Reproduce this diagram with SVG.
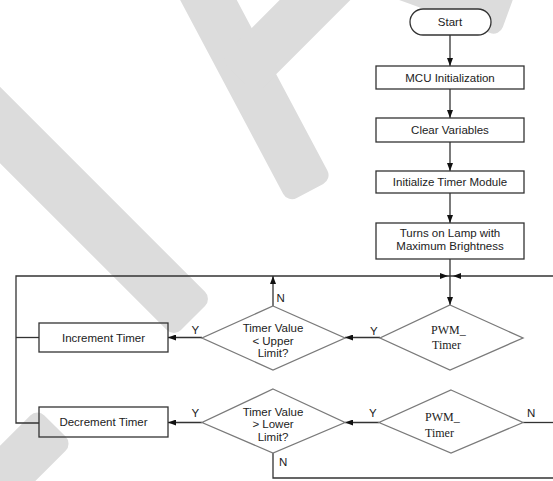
<svg xmlns="http://www.w3.org/2000/svg" width="553" height="481" viewBox="0 0 553 481">
<style>
.wm{fill:#dcdcdc}
.box{fill:none;stroke:#333;stroke-width:1.3}
.dia{fill:none;stroke:#7a7a7a;stroke-width:1.3}
.ln{fill:none;stroke:#333;stroke-width:1.3}
.t{font-family:"Liberation Sans",Arial,sans-serif;font-size:11.5px;fill:#222;text-anchor:middle}
.lb{font-family:"Liberation Sans",Arial,sans-serif;font-size:11.5px;fill:#222}
.s{font-family:"Liberation Serif","Times New Roman",serif;font-size:12px;fill:#222}
</style>
<defs>
<marker id="ah" viewBox="0 0 8 6" refX="8" refY="3" markerWidth="8" markerHeight="6" markerUnits="userSpaceOnUse" orient="auto">
<path d="M0,0 L8,3 L0,6 Z" fill="#111"/>
</marker>
</defs>
<rect width="553" height="481" fill="#fff"/>
<g id="watermark">
<rect class="wm" transform="translate(193,318) rotate(45)" x="-420" y="-27" width="420" height="54" rx="10"/>
<rect class="wm" transform="translate(310,191) rotate(62)" x="-300" y="-25" width="300" height="50" rx="10"/>
<rect class="wm" transform="translate(245,70) rotate(-45)" x="-10" y="-25" width="200" height="50" rx="10"/>
<rect class="wm" transform="translate(508,13) rotate(20)" x="-300" y="-25" width="300" height="50" rx="10"/>
<rect class="wm" transform="translate(55,426) rotate(-45)" x="-200" y="-25" width="200" height="50" rx="10"/>
</g>
<g id="connectors">
<line class="ln" x1="450" y1="35" x2="450" y2="66" marker-end="url(#ah)"/>
<line class="ln" x1="450" y1="89" x2="450" y2="118" marker-end="url(#ah)"/>
<line class="ln" x1="450" y1="142" x2="450" y2="171" marker-end="url(#ah)"/>
<line class="ln" x1="450" y1="193" x2="450" y2="223" marker-end="url(#ah)"/>
<line class="ln" x1="450" y1="259" x2="450" y2="305" marker-end="url(#ah)"/>
<polyline class="ln" points="553,276 16,276 16,423 39,423"/>
<line class="ln" x1="16" y1="337.5" x2="39" y2="337.5"/>
<path d="M440,273 L448,276 L440,279 Z" fill="#111"/>
<path d="M461,273 L453,276 L461,279 Z" fill="#111"/>
<line class="ln" x1="273" y1="306" x2="273" y2="276" marker-end="url(#ah)"/>
<line class="ln" x1="202" y1="337.5" x2="168" y2="337.5" marker-end="url(#ah)"/>
<line class="ln" x1="380" y1="337.5" x2="345" y2="337.5" marker-end="url(#ah)"/>
<line class="ln" x1="202" y1="422.5" x2="168" y2="422.5" marker-end="url(#ah)"/>
<line class="ln" x1="379" y1="422.5" x2="345" y2="422.5" marker-end="url(#ah)"/>
<polyline class="ln" points="273,453 273,478 553,478"/>
<line class="ln" x1="523" y1="422.5" x2="553" y2="422.5"/>
<text class="lb" x="276.5" y="302">N</text>
<text class="lb" x="191.5" y="333.5">Y</text>
<text class="lb" x="370" y="334.5">Y</text>
<text class="lb" x="191.5" y="417">Y</text>
<text class="lb" x="369" y="417">Y</text>
<text class="lb" x="527" y="417">N</text>
<text class="lb" x="279" y="466">N</text>
</g>
<g id="start">
<rect x="410" y="9" width="81" height="26" rx="13" fill="#fff" stroke="#333" stroke-width="1.3"/>
<text class="t" x="450" y="26">Start</text>
</g>
<g id="mcu-init">
<rect class="box" x="376" y="66" width="148" height="23"/>
<text class="t" x="450" y="81.5">MCU Initialization</text>
</g>
<g id="clear-vars">
<rect class="box" x="376" y="118" width="148" height="24"/>
<text class="t" x="450" y="134">Clear Variables</text>
</g>
<g id="init-timer">
<rect class="box" x="376" y="171" width="148" height="22"/>
<text class="t" x="450" y="186">Initialize Timer Module</text>
</g>
<g id="lamp-on">
<rect class="box" x="376" y="223" width="148" height="36"/>
<text class="t" x="450" y="237">Turns on Lamp with</text>
<text class="t" x="450" y="250">Maximum Brightness</text>
</g>
<g id="pwm-timer-1">
<polygon class="dia" points="450,305 523,338 450,370 380,338"/>
<text class="s" x="431" y="334">PWM_</text>
<text class="s" x="432" y="349">Timer</text>
</g>
<g id="upper-check">
<polygon class="dia" points="273,306 345,338 273,370 202,338"/>
<text class="t" x="273" y="331.5">Timer Value</text>
<text class="t" x="273" y="344.5">&lt; Upper</text>
<text class="t" x="273" y="357">Limit?</text>
</g>
<g id="increment">
<rect class="box" x="39" y="323" width="129" height="29"/>
<text class="t" x="103.5" y="341.5">Increment Timer</text>
</g>
<g id="pwm-timer-2">
<polygon class="dia" points="451,390 523,422.5 451,453 379,422.5"/>
<text class="s" x="425" y="421">PWM_</text>
<text class="s" x="425" y="437">Timer</text>
</g>
<g id="lower-check">
<polygon class="dia" points="273,389 345,422.5 273,453 202,422.5"/>
<text class="t" x="273" y="415.5">Timer Value</text>
<text class="t" x="273" y="428">&gt; Lower</text>
<text class="t" x="273" y="440.5">Limit?</text>
</g>
<g id="decrement">
<rect class="box" x="39" y="407" width="129" height="30"/>
<text class="t" x="103.5" y="426">Decrement Timer</text>
</g>
</svg>
